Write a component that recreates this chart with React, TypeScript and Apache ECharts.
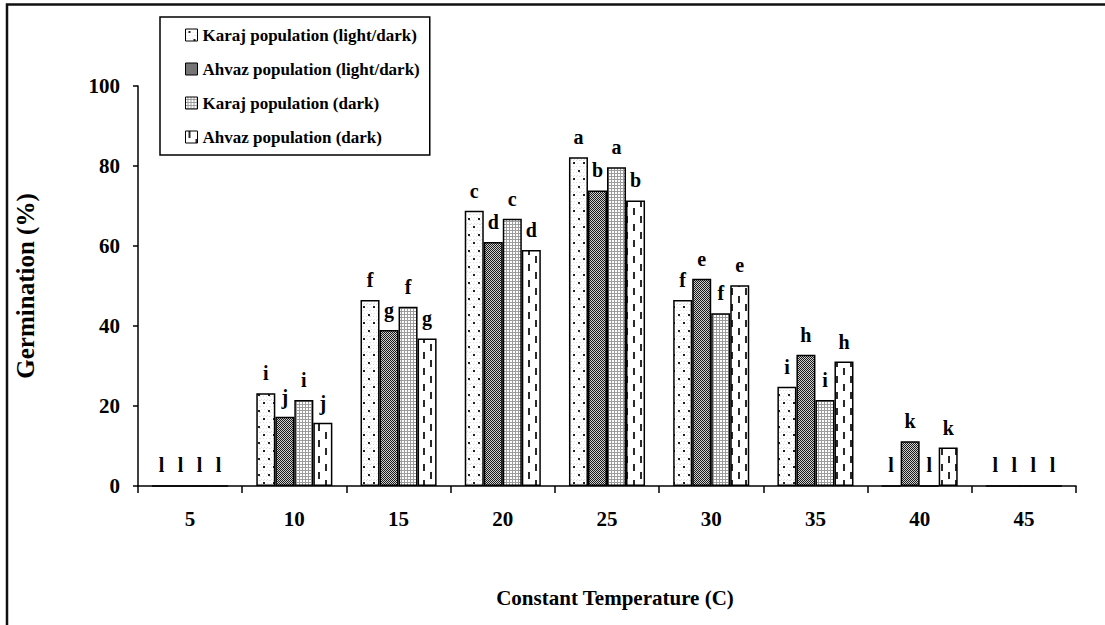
import React, { useEffect, useRef } from 'react';
import * as echarts from 'echarts';

const temperatures = ['5', '10', '15', '20', '25', '30', '35', '40', '45'];
const seriesNames = [
  'Karaj population (light/dark)',
  'Ahvaz population (light/dark)',
  'Karaj population (dark)',
  'Ahvaz population (dark)',
];
const karajLightDark = [0, 23.2, 46.5, 68.8, 82.2, 46.5, 24.8, 0, 0];
const ahvazLightDark = [0, 17.3, 39.0, 61.0, 73.9, 51.8, 32.8, 11.2, 0];
const karajDark = [0, 21.5, 44.8, 66.8, 79.7, 43.2, 21.5, 0, 0];
const ahvazDark = [0, 15.8, 36.9, 59.0, 71.4, 50.2, 31.1, 9.6, 0];

const lettersKarajLightDark = ['l', 'i', 'f', 'c', 'a', 'f', 'i', 'l', 'l'];
const lettersAhvazLightDark = ['l', 'j', 'g', 'd', 'b', 'e', 'h', 'k', 'l'];
const lettersKarajDark = ['l', 'i', 'f', 'c', 'a', 'f', 'i', 'l', 'l'];
const lettersAhvazDark = ['l', 'j', 'g', 'd', 'b', 'e', 'h', 'k', 'l'];

const yMin = 0;
const yMax = 100;
const yInterval = 20;

const FONT = "'Liberation Serif', 'Times New Roman', serif";

function makeCanvas(w: number, h: number, draw: (ctx: CanvasRenderingContext2D) => void) {
  const c = document.createElement('canvas');
  c.width = w;
  c.height = h;
  const ctx = c.getContext('2d')!;
  draw(ctx);
  return { image: c, repeat: 'repeat', imageWidth: w, imageHeight: h } as any;
}

export default function App() {
  const ref = useRef<HTMLDivElement>(null);
  useEffect(() => {
    document.body.style.margin = '0';
    const chart = echarts.init(ref.current!, undefined, { renderer: 'svg' });

    const p1 = makeCanvas(10, 16, (ctx) => {
      ctx.fillStyle = '#ffffff';
      ctx.fillRect(0, 0, 10, 16);
      ctx.fillStyle = '#dedede';
      for (let y = 0; y < 16; y += 3) {
        for (let x = (y / 3) % 2 ? 1 : 0; x < 10; x += 3) ctx.fillRect(x, y, 1, 1);
      }
      ctx.fillStyle = '#222';
      ctx.fillRect(3, 2, 2, 2);
      ctx.fillRect(8, 10, 2, 2);
    });
    const p2 = makeCanvas(4, 4, (ctx) => {
      ctx.fillStyle = '#cfcfcf';
      ctx.fillRect(0, 0, 4, 4);
      ctx.fillStyle = '#1a1a1a';
      for (let y = 0; y < 4; y++) for (let x = 0; x < 4; x++) if ((x + y) % 2 === 0) ctx.fillRect(x, y, 1, 1);
    });
    const p3 = makeCanvas(3, 3, (ctx) => {
      ctx.fillStyle = '#9c9c9c';
      ctx.fillRect(0, 0, 3, 3);
      ctx.fillStyle = '#ffffff';
      ctx.fillRect(0, 0, 2, 2);
    });
    const p4 = makeCanvas(14, 16, (ctx) => {
      ctx.fillStyle = '#ffffff';
      ctx.fillRect(0, 0, 14, 16);
      ctx.fillStyle = '#2a2a2a';
      ctx.fillRect(3, 0, 2, 7);
      ctx.fillRect(10, 8, 2, 7);
    });

    const patterns = [p1, p2, p3, p4];
    const values = [karajLightDark, ahvazLightDark, karajDark, ahvazDark];
    const letters = [lettersKarajLightDark, lettersAhvazLightDark, lettersKarajDark, lettersAhvazDark];

    chart.setOption({
      animation: false,
      backgroundColor: '#ffffff',
      textStyle: { fontFamily: FONT, color: '#000' },
      grid: { left: 138, right: 29, top: 86, bottom: 139 },
      legend: {
        orient: 'vertical',
        left: 160,
        top: 17,
        padding: [8, 10, 8, 25],
        itemGap: 14,
        itemWidth: 12,
        itemHeight: 12,
        icon: 'rect',
        borderColor: '#000',
        borderWidth: 1.5,
        backgroundColor: '#fff',
        itemStyle: { borderColor: '#000', borderWidth: 1 },
        textStyle: { fontFamily: FONT, fontSize: 17, fontWeight: 'bold', color: '#000', lineHeight: 20 },
        data: seriesNames,
      },
      xAxis: {
        type: 'category',
        data: temperatures,
        name: 'Constant Temperature (C)',
        nameLocation: 'middle',
        nameGap: 101,
        nameTextStyle: { fontFamily: FONT, fontSize: 21, fontWeight: 'bold', color: '#000', padding: [0, 0, 0, 16] },
        axisLine: { lineStyle: { color: '#000', width: 1.5 } },
        axisTick: { show: true, length: 7, lineStyle: { color: '#000', width: 1.5 } },
        axisLabel: { margin: 22, fontFamily: FONT, fontSize: 21, fontWeight: 'bold', color: '#000' },
      },
      yAxis: {
        type: 'value',
        min: yMin,
        max: yMax,
        interval: yInterval,
        name: 'Germination (%)',
        nameLocation: 'middle',
        nameGap: 100,
        nameTextStyle: { fontFamily: FONT, fontSize: 25, fontWeight: 'bold', color: '#000' },
        axisLine: { show: true, lineStyle: { color: '#000', width: 1.5 } },
        axisTick: { show: true, length: 5, lineStyle: { color: '#000', width: 1.5 } },
        splitLine: { show: false },
        axisLabel: { margin: 18, fontFamily: FONT, fontSize: 21, fontWeight: 'bold', color: '#000' },
      },
      graphic: [
        {
          type: 'rect',
          shape: { x: 7, y: 4.5, width: 1300, height: 800 },
          style: { fill: 'none', stroke: '#111', lineWidth: 2.5 },
          silent: true,
          z: 100,
        },
      ],
      series: seriesNames.map((name, i) => ({
        name,
        type: 'bar',
        data: values[i],
        barGap: '0%',
        barCategoryGap: '27%',
        itemStyle: { color: patterns[i], borderColor: '#000', borderWidth: 1.5 },
        label: {
          show: true,
          position: 'top',
          distance: 10,
          formatter: (p: any) => letters[i][p.dataIndex],
          fontFamily: FONT,
          fontSize: 20,
          fontWeight: 'bold',
          color: '#000',
        },
      })),
    });
    return () => chart.dispose();
  }, []);
  return <div ref={ref} style={{ width: 1105, height: 625 }} />;
}
